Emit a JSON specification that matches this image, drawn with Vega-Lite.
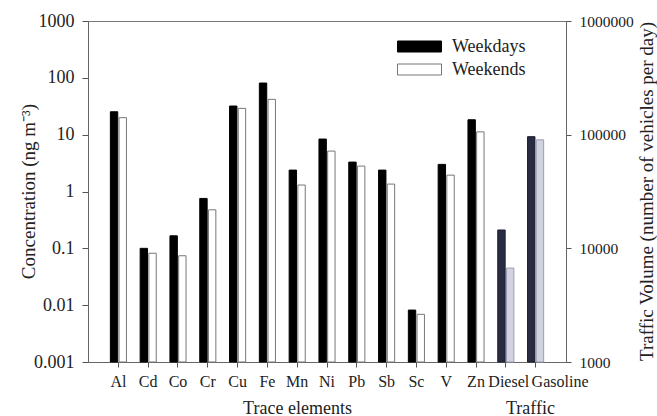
{
  "$schema": "https://vega.github.io/schema/vega-lite/v6.json",
  "width": 478,
  "height": 341,
  "autosize": {"type": "none"},
  "padding": {"left": 88, "top": 21, "right": 91, "bottom": 54},
  "background": "white",
  "config": {
    "view": {"stroke": "#777", "strokeWidth": 1},
    "font": "Liberation Serif",
    "axis": {
      "labelFont": "Liberation Serif",
      "titleFont": "Liberation Serif",
      "titleFontWeight": "normal",
      "labelColor": "#222",
      "titleColor": "#222",
      "domainColor": "#666",
      "tickColor": "#555",
      "grid": false
    },
    "legend": {"labelFont": "Liberation Serif"}
  },
  "datasets": {
    "elements": [
      {"cat": "Al", "period": "Weekdays", "value": 25.3},
      {"cat": "Al", "period": "Weekends", "value": 19.9},
      {"cat": "Cd", "period": "Weekdays", "value": 0.1},
      {"cat": "Cd", "period": "Weekends", "value": 0.082},
      {"cat": "Co", "period": "Weekdays", "value": 0.166},
      {"cat": "Co", "period": "Weekends", "value": 0.074},
      {"cat": "Cr", "period": "Weekdays", "value": 0.755},
      {"cat": "Cr", "period": "Weekends", "value": 0.476},
      {"cat": "Cu", "period": "Weekdays", "value": 31.9},
      {"cat": "Cu", "period": "Weekends", "value": 29.0},
      {"cat": "Fe", "period": "Weekdays", "value": 81},
      {"cat": "Fe", "period": "Weekends", "value": 41.8},
      {"cat": "Mn", "period": "Weekdays", "value": 2.38},
      {"cat": "Mn", "period": "Weekends", "value": 1.3},
      {"cat": "Ni", "period": "Weekdays", "value": 8.37},
      {"cat": "Ni", "period": "Weekends", "value": 5.14},
      {"cat": "Pb", "period": "Weekdays", "value": 3.29},
      {"cat": "Pb", "period": "Weekends", "value": 2.8},
      {"cat": "Sb", "period": "Weekdays", "value": 2.38},
      {"cat": "Sb", "period": "Weekends", "value": 1.35},
      {"cat": "Sc", "period": "Weekdays", "value": 0.0082},
      {"cat": "Sc", "period": "Weekends", "value": 0.0069},
      {"cat": "V", "period": "Weekdays", "value": 3.0},
      {"cat": "V", "period": "Weekends", "value": 1.94},
      {"cat": "Zn", "period": "Weekdays", "value": 18.3},
      {"cat": "Zn", "period": "Weekends", "value": 11.2}
    ],
    "traffic": [
      {"cat": "Diesel", "period": "Weekdays", "value": 14500},
      {"cat": "Diesel", "period": "Weekends", "value": 6700},
      {"cat": "Gasoline", "period": "Weekdays", "value": 96000},
      {"cat": "Gasoline", "period": "Weekends", "value": 90000}
    ]
  },
  "layer": [
    {
      "data": {"name": "elements"},
      "mark": {"type": "bar", "strokeWidth": 1},
      "encoding": {
        "x": {
          "field": "cat",
          "type": "nominal",
          "sort": null,
          "scale": {
            "domain": ["Al", "Cd", "Co", "Cr", "Cu", "Fe", "Mn", "Ni", "Pb", "Sb", "Sc", "V", "Zn", "Diesel", "Gasoline"],
            "paddingInner": 0.46,
            "paddingOuter": 0.75
          },
          "axis": {
            "orient": "bottom",
            "title": "Trace elements",
            "titleX": 209,
            "titleY": 51,
            "titleBaseline": "alphabetic",
            "titleAnchor": "middle",
            "titleAlign": "center",
            "titleFontSize": 18,
            "labelAngle": 0,
            "labelFontSize": 16,
            "labelOverlap": false,
            "labelPadding": 6,
            "tickSize": 5,
            "labelAlign": {"condition": {"test": "datum.value === 'Gasoline'", "value": "left"}, "value": "center"},
            "labelOffset": {"condition": [{"test": "datum.value === 'Gasoline'", "value": -4}, {"test": "datum.value === 'Diesel'", "value": 3}], "value": 0}
          }
        },
        "xOffset": {
          "field": "period",
          "type": "nominal",
          "scale": {"domain": ["Weekdays", "Weekends"], "paddingInner": 0.15}
        },
        "y": {
          "field": "value",
          "type": "quantitative",
          "stack": null,
          "scale": {"type": "log", "domain": [0.001, 1000]},
          "axis": {
            "orient": "left",
            "values": [0.001, 0.01, 0.1, 1, 10, 100, 1000],
            "format": "~g",
            "title": "Concentration (ng m⁻³)",
            "titleX": -54,
            "titleY": 170,
            "titleAngle": 270,
            "titleBaseline": "alphabetic",
            "titleAlign": "center",
            "titleFontSize": 19,
            "labelFontSize": 18,
            "tickSize": 6,
            "labelPadding": 8
          }
        },
        "y2": {"datum": 0.001},
        "fill": {
          "field": "period",
          "type": "nominal",
          "scale": {"domain": ["Weekdays", "Weekends"], "range": ["#000000", "#ffffff"]},
          "legend": {
            "title": null,
            "orient": "none",
            "legendX": 320,
            "legendY": 14,
            "symbolType": "M-2,-0.5H2V0.5H-2Z",
            "symbolSize": 484,
            "symbolStrokeWidth": 1,
            "labelFontSize": 18,
            "labelOffset": 21,
            "labelColor": "#222",
            "rowPadding": 2
          }
        },
        "stroke": {
          "field": "period",
          "type": "nominal",
          "scale": {"domain": ["Weekdays", "Weekends"], "range": ["#000000", "#777777"]},
          "legend": {
            "title": null,
            "orient": "none",
            "legendX": 320,
            "legendY": 14,
            "symbolType": "M-2,-0.5H2V0.5H-2Z",
            "symbolSize": 484,
            "symbolStrokeWidth": 1,
            "labelFontSize": 18,
            "labelOffset": 21,
            "labelColor": "#222",
            "rowPadding": 2
          }
        }
      }
    },
    {
      "data": {"name": "traffic"},
      "mark": {"type": "bar", "strokeWidth": 1},
      "encoding": {
        "x": {
          "field": "cat",
          "type": "nominal",
          "sort": null,
          "axis": {
            "orient": "bottom",
            "title": "Traffic",
            "titleX": 442,
            "titleY": 51,
            "titleBaseline": "alphabetic",
            "titleAnchor": "middle",
            "titleAlign": "center",
            "titleFontSize": 18,
            "labels": false,
            "ticks": false,
            "domain": false
          }
        },
        "xOffset": {"field": "period", "type": "nominal"},
        "y": {
          "field": "value",
          "type": "quantitative",
          "stack": null,
          "scale": {"type": "log", "domain": [1000, 1000000]},
          "axis": {
            "orient": "right",
            "values": [1000, 10000, 100000, 1000000],
            "format": "d",
            "title": "Traffic Volume (number of vehicles per day)",
            "titleX": 86,
            "titleY": 170,
            "titleAngle": 270,
            "titleBaseline": "alphabetic",
            "titleAlign": "center",
            "titleFontSize": 19,
            "labelFontSize": 15.5,
            "tickSize": 5,
            "labelPadding": 8
          }
        },
        "y2": {"datum": 1000},
        "fill": {
          "field": "period",
          "type": "nominal",
          "scale": {"domain": ["Weekdays", "Weekends"], "range": ["#2a2d42", "#d2d3e0"]},
          "legend": null
        },
        "stroke": {
          "field": "period",
          "type": "nominal",
          "scale": {"domain": ["Weekdays", "Weekends"], "range": ["#1a1c2c", "#9a9cb2"]},
          "legend": null
        }
      }
    }
  ],
  "resolve": {
    "scale": {"y": "independent", "fill": "independent", "stroke": "independent"},
    "axis": {"x": "independent"}
  }
}
